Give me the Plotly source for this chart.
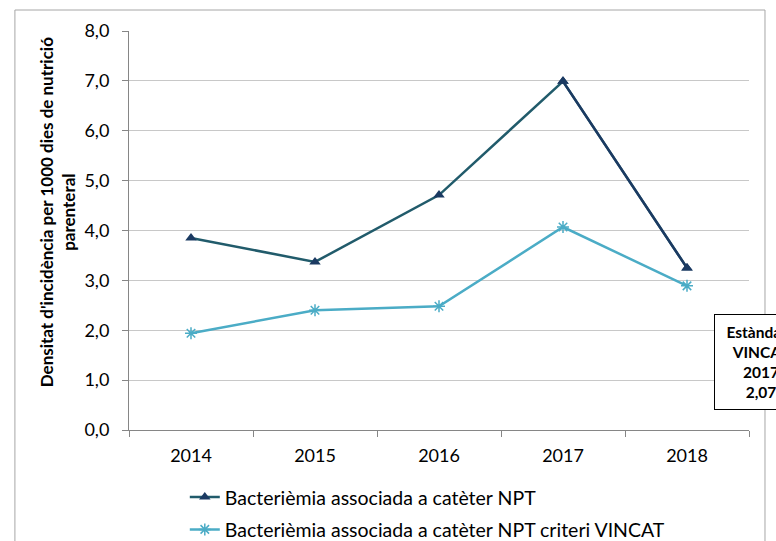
import plotly.graph_objects as go

years = ["2014", "2015", "2016", "2017", "2018"]
npt = [3.85, 3.37, 4.71, 6.99, 3.25]
npt_vincat = [1.94, 2.40, 2.48, 4.07, 2.89]
y_ticks = [0, 1, 2, 3, 4, 5, 6, 7, 8]
y_tick_labels = ["0,0", "1,0", "2,0", "3,0", "4,0", "5,0", "6,0", "7,0", "8,0"]
name_npt = "Bacterièmia associada a catèter NPT"
name_vincat = "Bacterièmia associada a catèter NPT criteri VINCAT"
y_title = "Densitat d'incidència per 1000 dies de nutrició<br>parenteral"
std_text = "<b>Estàndard<br>VINCAT<br>2017<br>2,07</b>"

FONT = "Lato, 'Open Sans', sans-serif"
DARK_LINE = "#215B6B"
DARK_MARK = "#1B3A62"
LIGHT = "#4BACC6"

fig = go.Figure()
fig.add_trace(go.Scatter(
    x=years, y=npt, name=name_npt, mode="lines+markers", legendgroup="a",
    line=dict(color=DARK_LINE, width=2.5),
    marker=dict(symbol="triangle-up", size=10, color=DARK_MARK),
))
# darker last segment (gradient look of the original)
fig.add_trace(go.Scatter(
    x=years[3:], y=npt[3:], mode="lines+markers", showlegend=False,
    legendgroup="a",
    line=dict(color=DARK_MARK, width=2.5),
    marker=dict(symbol="triangle-up", size=10, color=DARK_MARK),
    hoverinfo="skip",
))
fig.add_trace(go.Scatter(
    x=years, y=npt_vincat, name=name_vincat, mode="lines+markers",
    legendgroup="b",
    line=dict(color=LIGHT, width=2.5),
    marker=dict(symbol="asterisk-open", size=10, color=LIGHT,
                line=dict(color=LIGHT, width=1.5)),
))

fig.update_layout(
    width=776, height=541,
    margin=dict(l=129, r=27, t=31, b=111, autoexpand=False),
    paper_bgcolor="white", plot_bgcolor="white",
    font=dict(family=FONT, size=17, color="black"),
    showlegend=True,
    legend=dict(
        orientation="v", x=0.09, y=-0.12, xanchor="left", yanchor="top",
        font=dict(size=19.5), tracegroupgap=4, itemwidth=30,
        bgcolor="rgba(0,0,0,0)",
    ),
    xaxis=dict(
        type="category", showgrid=False, showline=True, linecolor="#868686",
        linewidth=1, ticks="outside", tickson="boundaries", ticklen=6,
        tickcolor="#868686", tickfont=dict(size=18), range=[-0.5, 4.5],
        ticklabelstandoff=9,
    ),
    yaxis=dict(
        range=[0, 8], tickvals=y_ticks, ticktext=y_tick_labels,
        showgrid=True, gridcolor="#C8C8C8", gridwidth=1,
        showline=True, linecolor="#868686", linewidth=1,
        ticks="outside", ticklen=6, tickcolor="#868686",
        tickfont=dict(size=18), zeroline=False, ticklabelstandoff=9,
    ),
    shapes=[
        dict(type="rect", xref="paper", yref="paper",
             x0=-0.184, x1=1.0258, y0=-0.5, y1=1.0526,
             line=dict(color="#A6A6A6", width=1), fillcolor="rgba(0,0,0,0)",
             layer="above"),
    ],
    annotations=[
        dict(text="<b>" + y_title + "</b>", xref="paper", yref="paper",
             x=-0.115, y=0.545, xanchor="center", yanchor="middle",
             textangle=-90, showarrow=False, font=dict(size=17)),
        dict(text=std_text, xref="paper", yref="paper",
             x=0.943, y=0.291, xanchor="left", yanchor="top",
             showarrow=False, align="center", font=dict(size=15.5),
             bordercolor="black", borderwidth=1, bgcolor="white",
             borderpad=8, width=76),
    ],
)

fig.write_html(
    "out.html",
    config={"displayModeBar": False},
    post_script="document.body.style.margin='0';"
                "document.body.style.overflow='hidden';",
)
